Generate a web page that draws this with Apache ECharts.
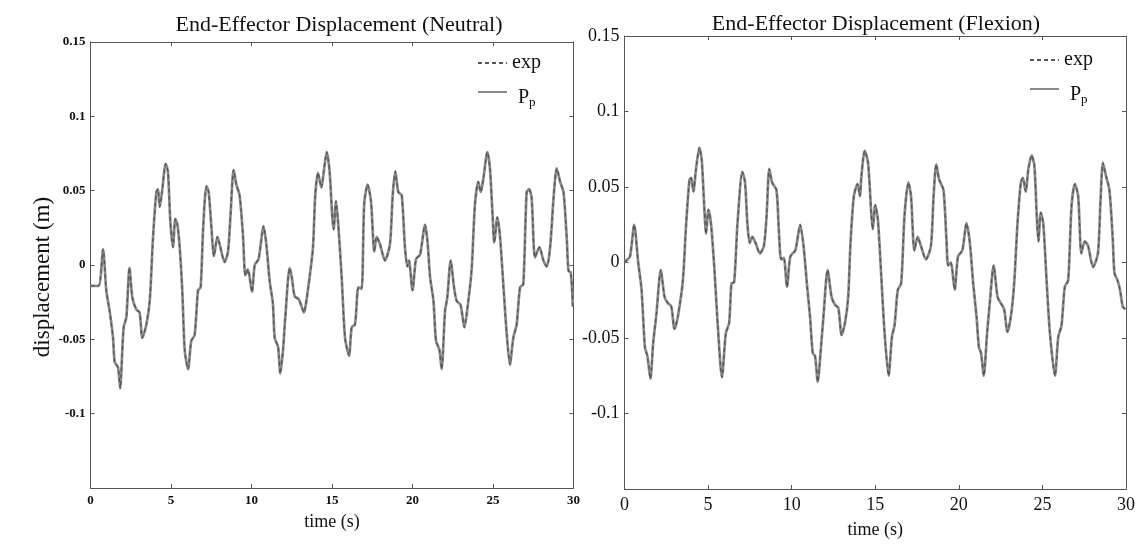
<!DOCTYPE html>
<html>
<head>
<meta charset="utf-8">
<script src="https://cdn.jsdelivr.net/npm/echarts@6/dist/echarts.min.js"></script>
<style>html,body{margin:0;padding:0;background:#fff}#c{width:1138px;height:544px}</style>
</head>
<body>
<div id="c"></div>
<script>
const titles = ['End-Effector Displacement (Neutral)', 'End-Effector Displacement (Flexion)'];
const seriesNames = ['exp', 'Pp'];
const xTicks = [0, 5, 10, 15, 20, 25, 30];
const yTicks = [-0.15, -0.1, -0.05, 0, 0.05, 0.1, 0.15];

const neutralTime = [0.0,0.5,0.78,0.98,1.19,1.40,1.50,1.71,1.85,1.90,2.06,2.23,2.42,2.60,2.85,3.05,3.22,3.47,3.68,3.88,4.09,4.19,4.30,4.44,4.67,4.81,4.96,5.12,5.27,5.40,5.54,5.70,5.85,6.06,6.26,6.47,6.68,6.84,6.99,7.20,7.34,7.50,7.67,7.88,8.02,8.33,8.54,8.70,8.89,9.06,9.26,9.47,9.62,9.78,10.03,10.20,10.44,10.75,10.92,11.13,11.33,11.44,11.65,11.79,11.96,12.10,12.37,12.50,12.68,12.93,13.05,13.26,13.41,13.61,13.82,13.96,14.13,14.34,14.48,14.67,14.85,15.02,15.10,15.25,15.39,15.60,15.81,16.06,16.22,16.43,16.64,16.84,17.00,17.21,17.42,17.63,17.77,17.98,18.29,18.60,18.77,18.93,19.12,19.33,19.53,19.68,19.78,20.00,20.22,20.47,20.78,20.93,21.09,21.30,21.46,21.67,21.81,22.02,22.16,22.37,22.58,22.74,22.99,23.22,23.47,23.68,23.88,24.09,24.24,24.40,24.65,24.81,24.98,25.08,25.27,25.43,25.64,25.85,26.05,26.26,26.47,26.68,26.88,27.09,27.24,27.40,27.61,27.88,28.13,28.34,28.55,28.76,28.96,29.17,29.38,29.58,29.69,29.83,29.96];
const neutralExp = [-0.014,-0.014,0.0105,-0.017,-0.031,-0.049,-0.065,-0.069,-0.083,-0.075,-0.042,-0.035,-0.002,-0.022,-0.030,-0.032,-0.049,-0.040,-0.024,0.018,0.049,0.051,0.039,0.049,0.068,0.063,0.029,0.012,0.031,0.027,0.012,-0.017,-0.057,-0.070,-0.051,-0.047,-0.017,-0.015,0.023,0.053,0.049,0.027,0.006,0.019,0.014,0.002,0.009,0.034,0.064,0.054,0.047,0.020,-0.007,-0.003,-0.018,0.000,0.004,0.026,0.014,-0.011,-0.026,-0.049,-0.055,-0.073,-0.057,-0.035,-0.002,-0.008,-0.021,-0.023,-0.026,-0.032,-0.024,-0.008,0.012,0.047,0.062,0.052,0.062,0.076,0.063,0.032,0.024,0.043,0.027,-0.008,-0.049,-0.061,-0.042,-0.040,-0.015,-0.016,0.041,0.054,0.043,0.009,0.019,0.014,0.003,0.014,0.047,0.063,0.049,0.047,0.012,-0.001,0.003,-0.017,0.004,0.007,0.027,0.016,-0.008,-0.024,-0.051,-0.057,-0.070,-0.031,-0.022,0.003,-0.015,-0.024,-0.027,-0.042,-0.024,-0.002,0.041,0.056,0.049,0.058,0.076,0.065,0.032,0.015,0.032,0.020,-0.013,-0.046,-0.067,-0.049,-0.040,-0.015,-0.013,0.049,0.051,0.045,0.005,0.012,0.003,-0.001,0.012,0.045,0.065,0.056,0.049,0.018,-0.004,-0.005,-0.028];
const neutralPp = [-0.014,-0.014,0.0105,-0.017,-0.031,-0.049,-0.065,-0.069,-0.083,-0.075,-0.042,-0.035,-0.002,-0.022,-0.030,-0.032,-0.049,-0.040,-0.024,0.018,0.049,0.051,0.039,0.049,0.068,0.063,0.029,0.012,0.031,0.027,0.012,-0.017,-0.057,-0.070,-0.051,-0.047,-0.017,-0.015,0.023,0.053,0.049,0.027,0.006,0.019,0.014,0.002,0.009,0.034,0.064,0.054,0.047,0.020,-0.007,-0.003,-0.018,0.000,0.004,0.026,0.014,-0.011,-0.026,-0.049,-0.055,-0.073,-0.057,-0.035,-0.002,-0.008,-0.021,-0.023,-0.026,-0.032,-0.024,-0.008,0.012,0.047,0.062,0.052,0.062,0.076,0.063,0.032,0.024,0.043,0.027,-0.008,-0.049,-0.061,-0.042,-0.040,-0.015,-0.016,0.041,0.054,0.043,0.009,0.019,0.014,0.003,0.014,0.047,0.063,0.049,0.047,0.012,-0.001,0.003,-0.017,0.004,0.007,0.027,0.016,-0.008,-0.024,-0.051,-0.057,-0.070,-0.031,-0.022,0.003,-0.015,-0.024,-0.027,-0.042,-0.024,-0.002,0.041,0.056,0.049,0.058,0.076,0.065,0.032,0.015,0.032,0.020,-0.013,-0.046,-0.067,-0.049,-0.040,-0.015,-0.013,0.049,0.051,0.045,0.005,0.012,0.003,-0.001,0.012,0.045,0.065,0.056,0.049,0.018,-0.004,-0.005,-0.028];

const flexionTime = [0.00,0.09,0.33,0.58,0.82,1.02,1.22,1.37,1.55,1.71,1.91,2.17,2.40,2.60,2.80,2.99,3.19,3.49,3.69,3.89,3.99,4.12,4.28,4.48,4.62,4.78,4.88,5.02,5.17,5.37,5.57,5.83,6.06,6.26,6.40,6.56,6.76,7.05,7.21,7.35,7.49,7.65,7.84,8.10,8.34,8.50,8.66,8.83,9.09,9.23,9.37,9.53,9.72,9.92,10.22,10.51,10.71,10.91,11.10,11.26,11.40,11.56,11.74,11.90,12.15,12.39,12.59,12.79,12.99,13.19,13.38,13.52,13.72,13.94,14.08,14.17,14.37,14.57,14.77,14.85,15.00,15.16,15.36,15.56,15.80,16.00,16.15,16.35,16.55,16.75,16.98,17.14,17.34,17.54,17.73,18.03,18.33,18.49,18.65,18.82,19.08,19.26,19.36,19.52,19.75,19.95,20.21,20.46,20.66,20.86,21.06,21.20,21.33,21.49,21.69,21.85,22.08,22.32,22.52,22.71,22.91,23.11,23.31,23.51,23.71,23.83,24.00,24.16,24.36,24.52,24.66,24.76,24.90,25.05,25.25,25.45,25.75,25.95,26.14,26.34,26.54,26.74,26.94,27.14,27.33,27.53,27.73,28.03,28.32,28.48,28.62,28.81,29.01,29.21,29.31,29.50,29.64,29.80,29.95];
const flexionExp = [0.000,0.001,0.004,0.025,0.000,-0.018,-0.056,-0.062,-0.077,-0.054,-0.034,-0.005,-0.023,-0.027,-0.029,-0.044,-0.036,-0.012,0.026,0.055,0.056,0.047,0.062,0.076,0.068,0.035,0.019,0.035,0.026,-0.003,-0.040,-0.076,-0.047,-0.040,-0.014,-0.013,0.026,0.060,0.053,0.026,0.013,0.017,0.013,0.006,0.011,0.031,0.062,0.053,0.048,0.022,0.002,0.003,-0.016,0.004,0.008,0.025,0.011,-0.014,-0.036,-0.060,-0.062,-0.079,-0.058,-0.036,-0.005,-0.023,-0.028,-0.030,-0.048,-0.040,-0.023,0.013,0.044,0.052,0.044,0.057,0.074,0.066,0.031,0.022,0.038,0.028,-0.009,-0.047,-0.075,-0.049,-0.042,-0.018,-0.014,0.031,0.053,0.044,0.008,0.017,0.011,0.002,0.011,0.044,0.065,0.055,0.048,0.015,-0.002,0.000,-0.018,0.004,0.008,0.026,0.013,-0.014,-0.036,-0.056,-0.060,-0.075,-0.047,-0.027,-0.002,-0.023,-0.027,-0.031,-0.046,-0.036,-0.014,0.026,0.053,0.056,0.047,0.062,0.071,0.064,0.031,0.014,0.033,0.026,-0.012,-0.047,-0.075,-0.049,-0.042,-0.016,-0.012,0.037,0.052,0.044,0.006,0.014,0.011,-0.003,0.006,0.042,0.066,0.057,0.048,0.015,-0.007,-0.012,-0.018,-0.029,-0.031];
const flexionPp = [0.000,0.001,0.004,0.025,0.000,-0.018,-0.056,-0.062,-0.077,-0.054,-0.034,-0.005,-0.023,-0.027,-0.029,-0.044,-0.036,-0.012,0.026,0.055,0.056,0.047,0.062,0.076,0.068,0.035,0.019,0.035,0.026,-0.003,-0.040,-0.076,-0.047,-0.040,-0.014,-0.013,0.026,0.060,0.053,0.026,0.013,0.017,0.013,0.006,0.011,0.031,0.062,0.053,0.048,0.022,0.002,0.003,-0.016,0.004,0.008,0.025,0.011,-0.014,-0.036,-0.060,-0.062,-0.079,-0.058,-0.036,-0.005,-0.023,-0.028,-0.030,-0.048,-0.040,-0.023,0.013,0.044,0.052,0.044,0.057,0.074,0.066,0.031,0.022,0.038,0.028,-0.009,-0.047,-0.075,-0.049,-0.042,-0.018,-0.014,0.031,0.053,0.044,0.008,0.017,0.011,0.002,0.011,0.044,0.065,0.055,0.048,0.015,-0.002,0.000,-0.018,0.004,0.008,0.026,0.013,-0.014,-0.036,-0.056,-0.060,-0.075,-0.047,-0.027,-0.002,-0.023,-0.027,-0.031,-0.046,-0.036,-0.014,0.026,0.053,0.056,0.047,0.062,0.071,0.064,0.031,0.014,0.033,0.026,-0.012,-0.047,-0.075,-0.049,-0.042,-0.016,-0.012,0.037,0.052,0.044,0.006,0.014,0.011,-0.003,0.006,0.042,0.066,0.057,0.048,0.015,-0.007,-0.012,-0.018,-0.029,-0.031];

const FONT = '"Liberation Serif", "DejaVu Serif", serif';
const pair = (t, v) => t.map((x, i) => [x, v[i]]);
const fmtY = v => { const r = Math.round(v * 100) / 100; return r <= -0.15 ? '' : String(r === 0 ? 0 : r); };

const chart = echarts.init(document.getElementById('c'), null, { renderer: 'canvas' });

function xAx(gi, pos, fs, bold, showLabel, name, nameGap) {
  return {
    type: 'value', gridIndex: gi, position: pos, min: xTicks[0], max: xTicks[xTicks.length - 1], interval: 5,
    axisLine: { show: true, onZero: false, lineStyle: { color: '#555', width: 1 } },
    axisTick: { show: true, inside: true, length: 4, lineStyle: { color: '#555' } },
    axisLabel: { show: showLabel, fontFamily: FONT, fontSize: fs, fontWeight: bold ? 'bold' : 'normal', color: '#111', margin: bold ? 6 : 7 },
    splitLine: { show: false },
    name: name, nameLocation: 'middle', nameGap: nameGap,
    nameTextStyle: { fontFamily: FONT, fontSize: 18, color: '#111' }
  };
}
function yAx(gi, pos, fs, bold, showLabel, name) {
  return {
    type: 'value', gridIndex: gi, position: pos, min: yTicks[0], max: yTicks[yTicks.length - 1], interval: 0.05,
    axisLine: { show: true, onZero: false, lineStyle: { color: '#555', width: 1 } },
    axisTick: { show: true, inside: true, length: 4, lineStyle: { color: '#555' } },
    axisLabel: { show: showLabel, fontFamily: FONT, fontSize: fs, fontWeight: bold ? 'bold' : 'normal', color: '#111', margin: 5, formatter: fmtY },
    splitLine: { show: false },
    name: name, nameLocation: 'middle', nameGap: 33,
    nameTextStyle: { fontFamily: FONT, fontSize: 23, color: '#111', padding: [0, 24, 0, 0] }
  };
}

function lineSeries(name, xi, yi, data) {
  const isExp = name === 'exp';
  return {
    name: name, type: 'line', xAxisIndex: xi, yAxisIndex: yi, data: data,
    showSymbol: false, symbol: 'none', smooth: 0.25, z: isExp ? 3 : 2,
    lineStyle: isExp ? { color: '#555', width: 1.3, type: [4, 3] } : { color: '#8a8a8a', width: 2.7 },
    itemStyle: { color: isExp ? '#555' : '#8a8a8a' }
  };
}

const legendFmt = n => n === 'Pp' ? '{b|P}{s|p}' : '{a|exp}';
const legendRich = {
  a: { fontFamily: FONT, fontSize: 20, color: '#111' },
  b: { fontFamily: FONT, fontSize: 20, color: '#111', padding: [12, 0, 0, 6] },
  s: { fontFamily: FONT, fontSize: 13, color: '#111', padding: [22, 0, 0, 0] }
};
const legendBase = { data: seriesNames, orient: 'vertical', padding: 0, itemWidth: 29, itemHeight: 2, itemGap: 15,
  formatter: legendFmt, textStyle: { rich: legendRich }, selectedMode: false, itemStyle: { opacity: 0 } };

chart.setOption({
  animation: false,
  backgroundColor: '#fff',
  title: [
    { text: titles[0], left: 334, top: 9, textAlign: 'center', textStyle: { fontFamily: FONT, fontSize: 22, fontWeight: 'normal', color: '#111' } },
    { text: titles[1], left: 871, top: 8, textAlign: 'center', textStyle: { fontFamily: FONT, fontSize: 22, fontWeight: 'normal', color: '#111' } }
  ],
  legend: [
    Object.assign({}, legendBase, { left: 477, top: 53 }),
    Object.assign({}, legendBase, { left: 1029, top: 50 })
  ],
  grid: [
    { left: 90.5, top: 42, width: 483, height: 446, show: false },
    { left: 624.5, top: 36, width: 505.5, height: 453, show: false }
  ],
  xAxis: [
    xAx(0, 'bottom', 13, true, true, 'time (s)', 25),
    xAx(0, 'top', 13, true, false, '', 0),
    xAx(1, 'bottom', 18, false, true, 'time (s)', 32),
    xAx(1, 'top', 18, false, false, '', 0)
  ],
  yAxis: [
    yAx(0, 'left', 13, true, true, 'displacement (m)'),
    yAx(0, 'right', 13, true, false, ''),
    yAx(1, 'left', 18, false, true, ''),
    yAx(1, 'right', 18, false, false, '')
  ],
  series: [
    lineSeries('Pp', 0, 0, pair(neutralTime, neutralPp)),
    lineSeries('exp', 0, 0, pair(neutralTime, neutralExp)),
    lineSeries('Pp', 2, 2, pair(flexionTime, flexionPp)),
    lineSeries('exp', 2, 2, pair(flexionTime, flexionExp))
  ]
});
</script>
</body>
</html>
